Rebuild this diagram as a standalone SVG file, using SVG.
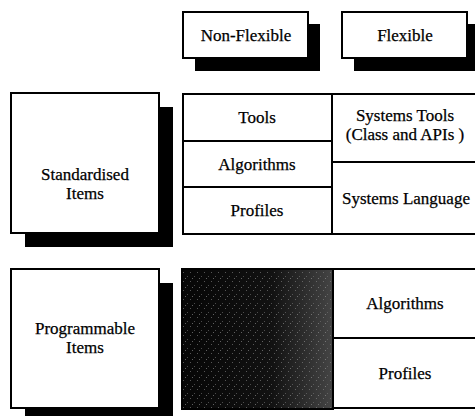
<svg xmlns="http://www.w3.org/2000/svg" width="475" height="416" viewBox="0 0 475 416">
<style>
.box{fill:#fff;stroke:#000;stroke-width:2}
.shadow{fill:#000}
.cell{fill:#fff;stroke:#000;stroke-width:2}
text{font-family:"Liberation Serif","Times New Roman",serif;font-size:17px;fill:#000;stroke:#000;stroke-width:0.25;text-anchor:middle}
</style>
<defs>
<linearGradient id="dark" x1="0" y1="0" x2="1" y2="0">
<stop offset="0" stop-color="#060606"/>
<stop offset="0.6" stop-color="#121212"/>
<stop offset="1" stop-color="#454545"/>
</linearGradient>
<pattern id="speck" width="7" height="9" patternUnits="userSpaceOnUse">
<rect x="1" y="2" width="1" height="1" fill="#888"/>
<rect x="5" y="6" width="1" height="1" fill="#777"/>
<rect x="3" y="8" width="1" height="1" fill="#999"/>
</pattern>
</defs>
<rect width="475" height="416" fill="#fff"/>
<g id="non-flexible">
<rect class="shadow" x="195" y="24" width="125" height="47"/>
<rect class="box" x="183" y="12" width="125" height="46"/>
<text x="246" y="41">Non-Flexible</text>
</g>
<g id="flexible">
<rect class="shadow" x="354" y="24" width="125" height="47"/>
<rect class="box" x="342" y="12" width="125" height="46"/>
<text x="405" y="41">Flexible</text>
</g>
<g id="standardised-items">
<rect class="shadow" x="25" y="107" width="148" height="140"/>
<rect class="box" x="11" y="93" width="148" height="140"/>
<text x="85" y="180">Standardised</text>
<text x="85" y="199">Items</text>
</g>
<g id="std-tools">
<rect class="cell" x="183" y="94" width="149" height="47"/>
<text x="257" y="123">Tools</text>
</g>
<g id="std-algorithms">
<rect class="cell" x="183" y="141" width="149" height="46"/>
<text x="257" y="170">Algorithms</text>
</g>
<g id="std-profiles">
<rect class="cell" x="183" y="187" width="149" height="47"/>
<text x="257" y="216">Profiles</text>
</g>
<g id="systems-tools">
<rect class="cell" x="332" y="94" width="146" height="68"/>
<text x="405" y="121">Systems Tools</text>
<text x="405" y="140">(Class and APIs )</text>
</g>
<g id="systems-language">
<rect class="cell" x="332" y="162" width="146" height="72"/>
<text x="406" y="204">Systems Language</text>
</g>
<g id="programmable-items">
<rect class="shadow" x="25" y="283" width="148" height="139"/>
<rect class="box" x="11" y="269" width="148" height="139"/>
<text x="85" y="334">Programmable</text>
<text x="85" y="353">Items</text>
</g>
<g id="prog-nonflexible">
<rect x="182" y="269" width="151" height="140" fill="url(#dark)" stroke="#000" stroke-width="2"/>
<rect x="183" y="270" width="149" height="138" fill="url(#speck)" opacity="0.6"/>
</g>
<g id="prog-algorithms">
<rect class="cell" x="333" y="269" width="145" height="69"/>
<text x="405" y="309">Algorithms</text>
</g>
<g id="prog-profiles">
<rect class="cell" x="333" y="338" width="145" height="70"/>
<text x="405" y="379">Profiles</text>
</g>
<g id="connectors"/>
</svg>
